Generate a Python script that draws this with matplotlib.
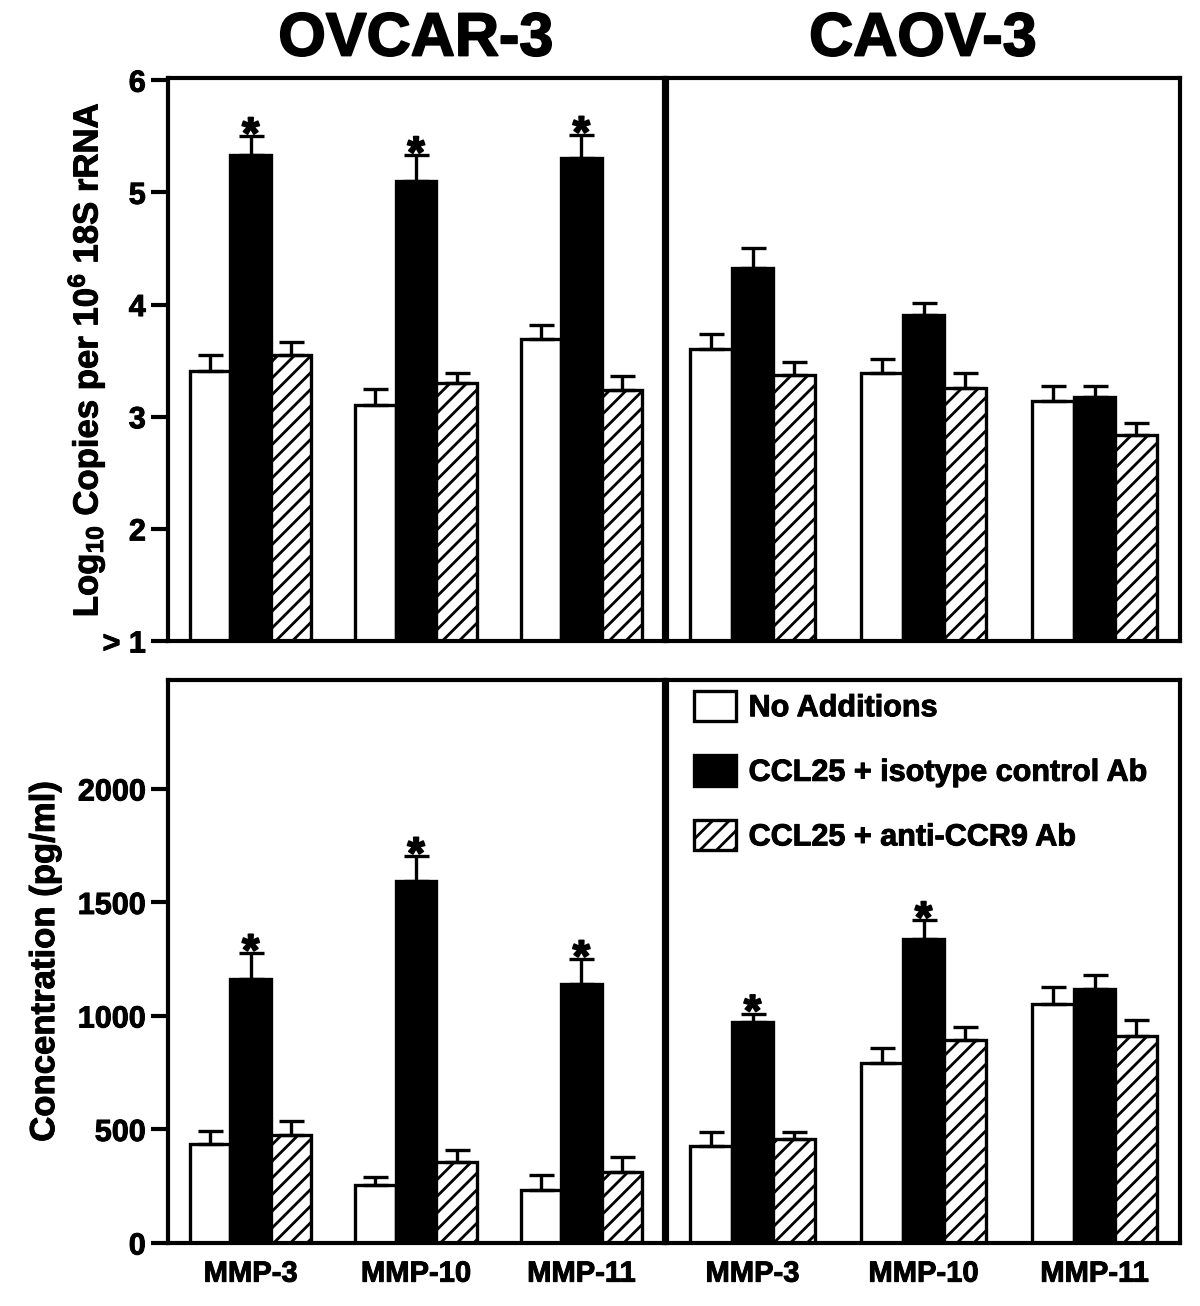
import matplotlib
matplotlib.use("Agg")
import matplotlib.pyplot as plt
import matplotlib.patheffects as pe
import numpy as np

plt.rcParams['font.family'] = ['Liberation Sans', 'DejaVu Sans']
plt.rcParams['font.weight'] = 'bold'
plt.rcParams['mathtext.fontset'] = 'custom'
plt.rcParams['mathtext.bf'] = 'Liberation Sans:bold'
plt.rcParams['mathtext.rm'] = 'Liberation Sans:bold'
plt.rcParams['mathtext.default'] = 'bf'
plt.rcParams['hatch.linewidth'] = 2.0

genes = ['MMP-3', 'MMP-10', 'MMP-11']
series = ['No Additions', 'CCL25 + isotype control Ab', 'CCL25 + anti-CCR9 Ab']
cell_lines = ['OVCAR-3', 'CAOV-3']

# log10 copies per 10^6 18S rRNA (rows: series, cols: genes)
ovcar_mrna = [[3.41, 3.10, 3.69], [5.33, 5.10, 5.31], [3.55, 3.30, 3.24]]
ovcar_mrna_err = [[0.14, 0.15, 0.13], [0.17, 0.23, 0.20], [0.12, 0.09, 0.12]]
caov_mrna = [[3.60, 3.39, 3.14], [4.33, 3.91, 3.18], [3.37, 3.26, 2.84]]
caov_mrna_err = [[0.14, 0.12, 0.13], [0.17, 0.10, 0.09], [0.12, 0.13, 0.10]]

# protein concentration, pg/ml
ovcar_conc = [[437, 256, 234], [1161, 1594, 1143], [477, 358, 313]]
ovcar_conc_err = [[58, 35, 66], [116, 110, 107], [59, 52, 67]]
caov_conc = [[429, 795, 1054], [974, 1340, 1121], [456, 894, 912]]
caov_conc_err = [[62, 63, 72], [36, 81, 59], [35, 57, 71]]

# significant differences (series 1 only)
ovcar_mrna_star = [True, True, True]
caov_mrna_star = [False, False, False]
ovcar_conc_star = [True, True, True]
caov_conc_star = [True, True, False]

STYLES = [dict(color='white', hatch=None),
          dict(color='black', hatch=None),
          dict(color='white', hatch='//')]
WIDTH = 0.245
LW = 2.4
HEAVY = [pe.withStroke(linewidth=1.3, foreground='black')]
MEDIUM = [pe.withStroke(linewidth=0.7, foreground='black')]


def draw_panel(ax, vals, errs, stars, ylim):
    """ Draw grouped bars with upper error bars into ax. """
    x = np.arange(len(genes))
    for i, (v, e) in enumerate(zip(vals, errs)):
        pos = x + (i - 1) * WIDTH
        st = STYLES[i]
        ax.bar(pos, np.array(v) - ylim[0], WIDTH, bottom=ylim[0],
               color=st['color'], hatch=st['hatch'], edgecolor='black',
               linewidth=LW, label=series[i], zorder=2)
        ax.errorbar(pos, v, yerr=[np.zeros(len(e)), e], fmt='none',
                    ecolor='black', elinewidth=LW, capsize=9,
                    capthick=LW, zorder=3)
        if i == 1:
            for p, val, err, s in zip(pos, v, e, stars):
                if s:
                    ax.annotate('*', (p, val + err), xytext=(0, -15),
                                textcoords='offset points', ha='center',
                                va='bottom', fontsize=32, fontweight='bold',
                                path_effects=HEAVY)
    ax.set_xlim(-0.5, 2.5)
    ax.set_ylim(*ylim)
    for sp in ax.spines.values():
        sp.set_linewidth(3)
    ax.tick_params(axis='y', direction='out', length=12, width=3,
                   labelsize=22, pad=4)
    ax.tick_params(axis='x', length=0, labelsize=21, pad=12)


fig = plt.figure(figsize=(12, 13.06), dpi=100)
W, H = 1200., 1306.


def add(l, t, r, b):
    return fig.add_axes([l / W, 1 - b / H, (r - l) / W, (b - t) / H])


ax_tl = add(168, 78, 664, 641)
ax_tr = add(667, 78, 1180, 641)
ax_bl = add(168, 680, 664, 1243)
ax_br = add(667, 680, 1180, 1243)

draw_panel(ax_tl, ovcar_mrna, ovcar_mrna_err, ovcar_mrna_star, (1, 6.02))
draw_panel(ax_tr, caov_mrna, caov_mrna_err, caov_mrna_star, (1, 6.02))
draw_panel(ax_bl, ovcar_conc, ovcar_conc_err, ovcar_conc_star, (0, 2480))
draw_panel(ax_br, caov_conc, caov_conc_err, caov_conc_star, (0, 2480))

ax_tl.set_yticks([1, 2, 3, 4, 5, 6])
ax_tl.set_yticklabels(['> 1', '2', '3', '4', '5', '6'], fontweight='bold')
ax_tl.set_ylabel('Log$_{10}$ Copies per 10$^{6}$ 18S rRNA',
                 fontsize=25, fontweight='bold', labelpad=-3)
ax_bl.set_yticks([0, 500, 1000, 1500, 2000])
ax_bl.set_yticklabels(['0', '500', '1000', '1500', '2000'],
                      fontweight='bold')
ax_bl.set_ylabel('Concentration (pg/ml)', fontsize=25, fontweight='bold',
                 labelpad=12)

for ax in (ax_tl, ax_tr):
    ax.set_xticks([])
for ax in (ax_tr, ax_br):
    ax.set_yticks([])
for ax in (ax_bl, ax_br):
    ax.set_xticks(np.arange(len(genes)))
    ax.set_xticklabels(genes, fontweight='bold')

fig.text(416 / W, 1 - 40 / H, cell_lines[0], ha='center', va='center',
         fontsize=44, fontweight='bold', path_effects=HEAVY)
fig.text(923 / W, 1 - 40 / H, cell_lines[1], ha='center', va='center',
         fontsize=44, fontweight='bold', path_effects=HEAVY)

leg = ax_br.legend(loc='upper left', bbox_to_anchor=(0.031, 1.0),
                   frameon=False, handlelength=1.4, handleheight=1.15,
                   labelspacing=1.05, handletextpad=0.4, borderpad=0.35,
                   borderaxespad=0, prop={'weight': 'bold', 'size': 22})

# heavier strokes to imitate the black grotesque face of the original
texts = list(leg.get_texts())
for ax in (ax_tl, ax_tr, ax_bl, ax_br):
    texts += ax.get_yticklabels() + ax.get_xticklabels()
    texts.append(ax.yaxis.label)
for t in texts:
    t.set_path_effects(MEDIUM)

fig.savefig('out.png', dpi=100)
